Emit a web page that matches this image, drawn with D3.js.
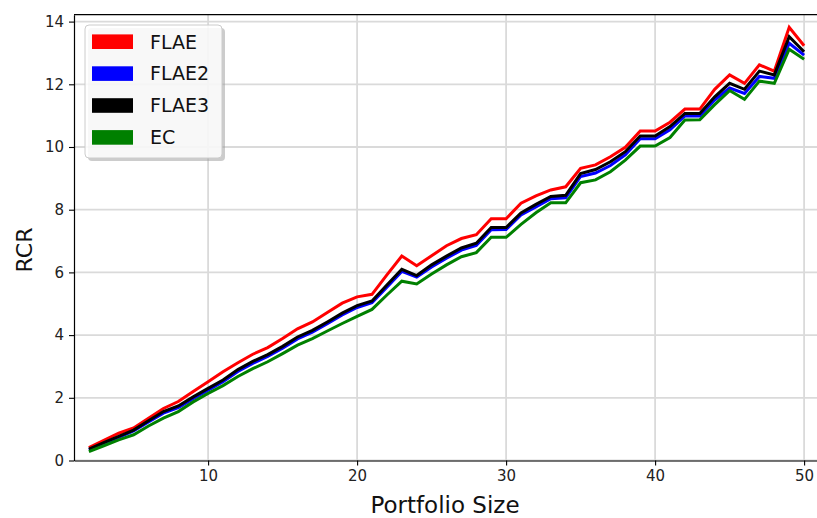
<!DOCTYPE html>
<html>
<head>
<meta charset="utf-8">
<script src="https://cdn.jsdelivr.net/npm/d3@7/dist/d3.min.js"></script>
<style>
  html, body { margin: 0; padding: 0; background: #fff; }
  svg { display: block; font-family: "DejaVu Sans", sans-serif; }
</style>
</head>
<body>
<svg id="chart" width="817" height="518"></svg>
<script>
// Portfolio sizes 2..50
const portfolioSize = [2,3,4,5,6,7,8,9,10,11,12,13,14,15,16,17,18,19,20,21,22,23,24,25,26,
  27,28,29,30,31,32,33,34,35,36,37,38,39,40,41,42,43,44,45,46,47,48,49,50];

const flae = [0.41,0.64,0.87,1.04,1.35,1.66,1.88,2.20,2.51,2.83,3.12,3.39,3.60,3.89,4.20,
  4.42,4.72,5.02,5.22,5.30,5.92,6.52,6.21,6.53,6.85,7.08,7.20,7.71,7.71,8.21,8.44,8.63,8.73,
  9.32,9.43,9.69,9.99,10.51,10.51,10.79,11.21,11.21,11.84,12.30,12.03,12.62,12.42,13.82,13.23];

const flae2 = [0.34,0.54,0.74,0.94,1.23,1.51,1.69,1.97,2.24,2.51,2.84,3.10,3.32,3.58,3.88,
  4.09,4.36,4.64,4.88,5.03,5.53,6.03,5.85,6.17,6.45,6.71,6.86,7.36,7.37,7.83,8.09,8.35,8.38,
  9.06,9.17,9.41,9.75,10.26,10.26,10.55,10.99,10.99,11.50,11.88,11.71,12.25,12.19,13.31,12.93];

const flae3 = [0.36,0.57,0.77,0.97,1.27,1.56,1.74,2.03,2.30,2.57,2.90,3.16,3.38,3.64,3.94,
  4.15,4.42,4.70,4.94,5.09,5.60,6.10,5.90,6.24,6.52,6.78,6.93,7.43,7.43,7.90,8.17,8.42,8.46,
  9.15,9.28,9.53,9.85,10.35,10.35,10.65,11.07,11.07,11.60,12.03,11.84,12.42,12.30,13.52,13.04];

const ec = [0.28,0.47,0.66,0.82,1.10,1.35,1.56,1.87,2.14,2.39,2.68,2.93,3.15,3.41,3.68,
  3.89,4.13,4.37,4.60,4.82,5.28,5.72,5.63,5.95,6.24,6.50,6.63,7.12,7.12,7.53,7.90,8.22,8.22,
  8.86,8.95,9.21,9.58,10.03,10.03,10.30,10.86,10.87,11.35,11.80,11.52,12.10,12.03,13.12,12.80];

const seriesNames = ["FLAE", "FLAE2", "FLAE3", "EC"];
const seriesColors = ["#ff0000", "#0000ff", "#000000", "#008000"];
const seriesValues = [flae, flae2, flae3, ec];

const xTicks = [10, 20, 30, 40, 50];
const yTicks = [0, 2, 4, 6, 8, 10, 12, 14];

const svg = d3.select("#chart");
const margin = { left: 74, top: 14.7, bottom: 460.5 };
const x = d3.scaleLinear().domain([1, 51]).range([margin.left, 819]);
const y = d3.scaleLinear().domain([0, 14.22]).range([margin.bottom, margin.top]);

// grid
const grid = svg.append("g");
grid.selectAll("line.vx").data(xTicks).join("line")
  .attr("x1", d => x(d)).attr("x2", d => x(d))
  .attr("y1", y(0)).attr("y2", y(14.22))
  .attr("stroke", "#dadada").attr("stroke-width", 1.8);
grid.selectAll("line.hy").data(yTicks).join("line")
  .attr("x1", x(1)).attr("x2", x(51))
  .attr("y1", d => y(d)).attr("y2", d => y(d))
  .attr("stroke", "#dadada").attr("stroke-width", 1.8);

// series lines
const line = d3.line().x((d, i) => x(portfolioSize[i])).y(d => y(d));
const order = [0, 1, 2, 3];
svg.append("g").selectAll("path").data(order).join("path")
  .attr("d", i => line(seriesValues[i]))
  .attr("fill", "none")
  .attr("stroke", i => seriesColors[i])
  .attr("stroke-width", 3)
  .attr("stroke-linejoin", "miter");

// top spine
svg.append("line").attr("x1", x(1)).attr("x2", x(51)).attr("y1", y(14.22)).attr("y2", y(14.22))
  .attr("stroke", "#000").attr("stroke-width", 1.2);

// axes
const xAxis = svg.append("g").attr("transform", `translate(0,${y(0)})`)
  .call(d3.axisBottom(x).tickValues(xTicks).tickSize(5).tickPadding(5).tickSizeOuter(0));
const yAxis = svg.append("g").attr("transform", `translate(${x(1)},0)`)
  .call(d3.axisLeft(y).tickValues(yTicks).tickSize(5).tickPadding(5).tickSizeOuter(0));
[xAxis, yAxis].forEach(a => {
  a.select(".domain").attr("stroke", "#000").attr("stroke-width", 1.2);
  a.selectAll(".tick line").attr("stroke", "#000").attr("stroke-width", 1.1);
  a.selectAll(".tick text").attr("fill", "#222")
    .style("font-family", "'DejaVu Sans', sans-serif").style("font-size", "15px");
});

// axis titles
svg.append("text").attr("x", 445).attr("y", 513).attr("text-anchor", "middle")
  .style("font-size", "23px").attr("fill", "#111").text("Portfolio Size");
svg.append("text").attr("transform", "translate(32,250) rotate(-90)").attr("text-anchor", "middle")
  .style("font-size", "22px").attr("fill", "#111").text("RCR");

// legend
const lg = svg.append("g");
lg.append("rect").attr("x", 88).attr("y", 28).attr("width", 137).attr("height", 133)
  .attr("rx", 4).attr("fill", "#999").attr("opacity", 0.5);
lg.append("rect").attr("x", 85).attr("y", 25).attr("width", 137).attr("height", 133)
  .attr("rx", 4).attr("fill", "#fff").attr("fill-opacity", 0.85)
  .attr("stroke", "#cccccc").attr("stroke-width", 1);
const items = lg.selectAll("g.item").data(seriesNames).join("g")
  .attr("transform", (d, i) => `translate(92,${41.7 + i * 31.9})`);
items.append("rect").attr("x", 0).attr("y", -7.3).attr("width", 41).attr("height", 14.6)
  .attr("fill", (d, i) => seriesColors[i]);
items.append("text").attr("x", 58).attr("y", 0).attr("dy", "0.36em")
  .style("font-size", "19px").attr("fill", "#111").text(d => d);
</script>
</body>
</html>
